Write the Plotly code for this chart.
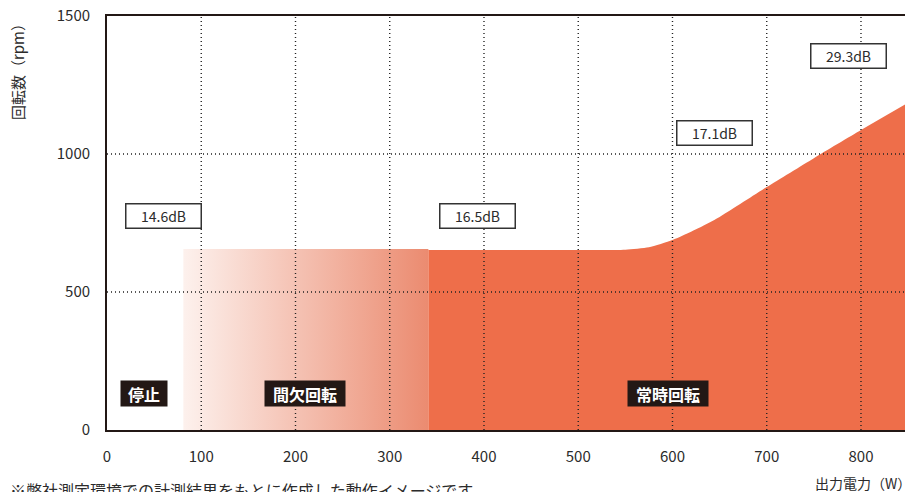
import plotly.graph_objects as go

# Data
x_ticks = [0, 100, 200, 300, 400, 500, 600, 700, 800]
y_ticks = [0, 500, 1000, 1500]
y_grid = [500, 1000]

interm_x = [81, 341]
interm_y = [656, 656]

cont_x = [341, 400, 500, 550, 575, 600, 625, 650, 700, 750, 800, 847]
cont_y = [652, 652, 652, 653, 662, 688, 727, 772, 880, 985, 1087, 1180]

db_labels = ["14.6dB", "16.5dB", "17.1dB", "29.3dB"]
db_x = [60, 393, 645, 787]
db_y = [775, 775, 1076, 1355]

mode_labels = ["停止", "間欠回転", "常時回転"]
mode_x = [39.6, 210, 595]
mode_y = [134, 134, 134]
mode_w = [40, 74, 74]

FONT = "Noto Sans CJK JP"
TXT = "#2b2b2b"

fig = go.Figure()
fig.add_trace(go.Scatter(
    x=interm_x, y=interm_y, mode="lines", fill="tozeroy",
    line=dict(width=0, color="rgba(0,0,0,0)"),
    fillgradient=dict(type="horizontal",
                      colorscale=[[0, "#FDF1ED"], [1, "#EB8B70"]]),
    hoverinfo="skip", showlegend=False))
fig.add_trace(go.Scatter(
    x=cont_x, y=cont_y, mode="lines", fill="tozeroy",
    line=dict(width=0, color="#EE6E4A", shape="spline", smoothing=0.6),
    fillcolor="#EE6E4A", hoverinfo="skip", showlegend=False))

shapes = []
for xv in x_ticks[1:]:
    shapes.append(dict(type="line", xref="x", yref="y", x0=xv, x1=xv, y0=0, y1=1500,
                       line=dict(color="#222", width=1.4, dash="1px,3px"), layer="above"))
for yv in y_grid:
    shapes.append(dict(type="line", xref="x", yref="y", x0=0, x1=847, y0=yv, y1=yv,
                       line=dict(color="#222", width=1.4, dash="1px,3px"), layer="above"))

annotations = []
for t, xv, yv in zip(db_labels, db_x, db_y):
    annotations.append(dict(x=xv, y=yv, xref="x", yref="y", text=t, showarrow=False,
                            font=dict(family=FONT, size=14, color=TXT),
                            bgcolor="white", bordercolor="#333", borderwidth=1.5,
                            width=70, height=19, borderpad=2))
for t, xv, yv, w in zip(mode_labels, mode_x, mode_y, mode_w):
    annotations.append(dict(x=xv, y=yv, xref="x", yref="y", text="<b>" + t + "</b>",
                            showarrow=False, width=w, height=19,
                            font=dict(family=FONT, size=16, color="white"),
                            bgcolor="#231815", borderpad=3))
annotations.append(dict(x=-89 / 798, y=1.0 + 2 / 414, xref="paper", yref="paper",
                        text="回転数（rpm）", textangle=-90, showarrow=False,
                        xanchor="center", yanchor="top",
                        font=dict(family=FONT, size=15, color=TXT)))
annotations.append(dict(x=(813 - 107) / 798, y=-53 / 414, xref="paper", yref="paper",
                        text="出力電力（W）", showarrow=False,
                        xanchor="left", yanchor="middle",
                        font=dict(family=FONT, size=14, color=TXT)))
annotations.append(dict(x=-99 / 798, y=-60 / 414, xref="paper", yref="paper",
                        text="※弊社測定環境での計測結果をもとに作成した動作イメージです。",
                        showarrow=False, xanchor="left", yanchor="middle",
                        font=dict(family=FONT, size=16, color=TXT)))

fig.update_layout(
    width=905, height=492,
    margin=dict(l=107, r=0, t=16, b=62),
    plot_bgcolor="white", paper_bgcolor="white",
    shapes=shapes, annotations=annotations,
    xaxis=dict(range=[0, 846.7], tickvals=x_ticks, showgrid=False, zeroline=False,
               showline=True, linecolor="#231815", linewidth=1.8, mirror=True,
               ticks="", ticklabelstandoff=12,
               tickfont=dict(family=FONT, size=15, color=TXT)),
    yaxis=dict(range=[0, 1500], tickvals=y_ticks, showgrid=False, zeroline=False,
               showline=True, linecolor="#231815", linewidth=1.8,
               ticks="", ticklabelstandoff=12,
               tickfont=dict(family=FONT, size=15, color=TXT)),
)

# remove the default page margin so the figure fills the window exactly
fig.write_html("out.html",
               config={"displayModeBar": False},
               post_script="document.body.style.margin='0';document.body.style.overflow='hidden';")
